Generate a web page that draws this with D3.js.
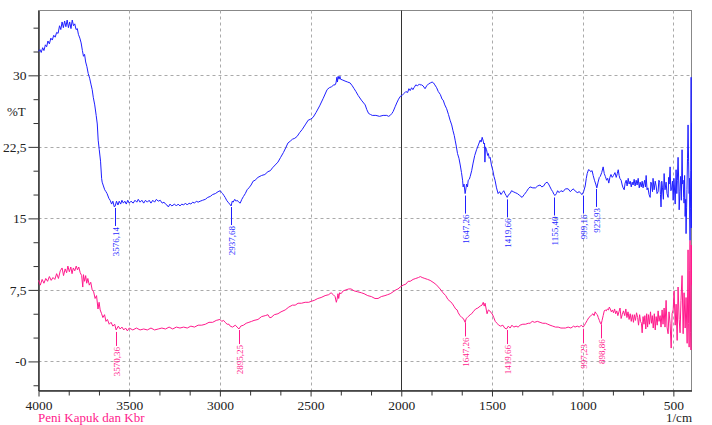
<!DOCTYPE html>
<html>
<head>
<meta charset="utf-8">
<script src="https://cdn.jsdelivr.net/npm/d3@7"></script>
<style>
  body { margin: 0; background: #fff; }
  svg, svg text { font-family: "Liberation Serif", "DejaVu Serif", serif !important; }
</style>
</head>
<body>
<div id="chart-area"></div>
<script>
// wavenumber (1/cm) and %T for the upper (blue) spectrum
var blueWn = [4000,3992,3985,3977,3970,3962,3955,3948,3940,3932,3924,3916,3908,3900,3892,3884,3877,3870,3863,3856,3849,3842,3835,3828,3821,3814,3807,3800,3793,3786,3780,3772,3765,3758,3752,3746,3740,3733,3726,3718,3710,3704,3698,3690,3682,3676,3671,3665,3658,3652,3649,3642,3635,3628,3622,3612,3605,3597,3590,3582,3577,3570,3562,3555,3547,3540,3532,3524,3516,3508,3500,3490,3478,3468,3458,3450,3440,3430,3420,3410,3400,3390,3380,3370,3360,3350,3340,3329,3318,3308,3300,3292,3284,3275,3265,3250,3240,3230,3220,3210,3200,3190,3180,3170,3160,3150,3140,3130,3120,3109,3095,3080,3067,3053,3040,3025,3010,2998,2990,2985,2978,2971,2963,2955,2946,2938,2932,2927,2918,2910,2905,2896,2888,2879,2870,2860,2850,2840,2828,2817,2806,2790,2770,2752,2735,2722,2710,2695,2680,2665,2650,2637,2625,2612,2600,2587,2574,2560,2547,2530,2513,2500,2486,2470,2450,2430,2409,2397,2385,2372,2365,2360,2355,2352,2348,2343,2338,2335,2322,2310,2296,2282,2270,2260,2250,2238,2220,2199,2190,2180,2170,2160,2140,2120,2100,2080,2070,2061,2052,2045,2034,2025,2015,2005,1995,1985,1975,1965,1958,1951,1943,1936,1930,1920,1910,1900,1896,1888,1880,1869,1860,1850,1840,1830,1822,1815,1805,1796,1785,1775,1769,1760,1750,1740,1731,1722,1715,1708,1703,1696,1690,1682,1675,1668,1662,1659,1654,1648,1643,1640,1635,1631,1625,1620,1612,1604,1595,1585,1575,1565,1560,1554,1548,1545,1541,1539,1536,1530,1524,1520,1515,1510,1503,1495,1489,1483,1475,1466,1458,1450,1443,1435,1428,1422,1416,1408,1400,1392,1383,1372,1360,1347,1334,1322,1310,1300,1290,1275,1260,1248,1235,1225,1215,1205,1196,1188,1180,1172,1165,1158,1152,1145,1138,1130,1120,1108,1095,1080,1068,1053,1042,1030,1018,1010,1003,995,986,980,975,968,964,956,948,942,935,928,922,915,908,903,895,887,881,875,868,862,856,850,844,837,830,822,815,809,804,799,795,788,782,777,771,766,760,755,749,744,738,732,727,722,716,711,705,700,694,688,683,677,672,667,662,658,654,650,645,640,634,628,624,620,615,612,606,600,595,590,584,580,575,571,568,564,560,555,551,546,540,535,529,526,523,518,514,510,505,501,497,495,490,485,481,478,474,470,468,464,460,456,452,449,446,443,441,438,435,432,430,427,425,422,419,416,413,411,410,408,406,404,402,401,400];
var blueT = [32.5,32.7,32.4,32.9,32.6,33.2,33.0,33.6,33.3,33.9,33.7,34.2,34.0,34.5,34.4,35.2,34.8,35.6,35.0,35.7,35.1,35.8,35.0,35.6,34.9,35.8,35.2,35.4,34.8,34.9,34.3,33.9,33.4,32.6,32.0,32.2,31.4,30.9,30.2,29.7,29.0,28.5,27.7,26.9,25.8,24.9,23.2,22.2,21.0,19.2,18.8,18.4,18.0,17.8,17.6,17.1,16.9,16.5,16.8,16.2,16.3,16.8,16.4,16.8,16.5,16.9,16.6,16.8,16.5,16.9,16.6,16.8,16.6,16.9,16.7,17.0,16.7,16.9,16.6,16.9,16.7,16.9,16.6,16.9,16.7,17.0,16.8,16.9,16.6,16.7,16.5,16.4,16.2,16.5,16.3,16.5,16.3,16.5,16.3,16.5,16.4,16.6,16.4,16.6,16.5,16.7,16.6,16.8,16.7,16.8,16.9,17.0,17.2,17.3,17.5,17.6,17.8,17.9,17.7,17.6,17.4,17.2,16.9,16.7,16.5,16.3,16.8,16.7,17.0,16.8,16.9,16.7,16.6,17.0,17.3,17.6,18.0,18.2,18.5,18.9,19.0,19.3,19.5,19.6,19.9,20.0,20.3,20.6,20.9,21.4,21.9,22.4,22.9,23.1,23.3,23.4,23.6,24.0,24.3,24.8,25.3,25.4,25.6,26.1,26.8,27.6,28.5,28.7,28.8,29.0,29.0,29.2,29.8,29.3,29.9,29.6,29.9,29.6,29.5,29.4,29.3,29.2,28.9,28.6,28.3,27.9,27.4,26.9,26.4,26.0,25.9,25.8,25.8,25.7,25.8,25.8,25.7,25.8,26.0,26.2,26.7,27.1,27.5,27.8,27.9,28.1,28.3,28.2,28.6,28.4,28.7,28.5,28.7,29.0,28.9,29.1,29.0,29.0,28.9,28.6,28.9,29.1,29.2,29.3,29.2,29.0,28.7,28.3,28.0,27.5,27.4,26.9,26.5,25.9,25.3,24.8,24.2,23.7,23.2,22.5,21.8,21.3,20.6,19.8,19.0,18.3,18.6,17.6,18.2,18.6,18.3,19.0,19.1,19.4,20.0,20.8,21.6,22.2,22.7,23.2,23.0,23.5,23.1,22.8,22.9,20.9,22.5,22.2,21.6,21.8,21.3,21.4,20.6,20.0,19.4,19.0,18.2,17.6,17.8,17.5,17.7,17.9,17.6,17.4,17.2,17.5,17.6,17.9,17.8,17.7,17.6,17.4,17.2,17.5,17.8,18.1,18.3,18.2,18.2,18.4,18.5,18.3,18.4,18.7,18.8,18.6,18.3,18.0,17.8,17.5,17.4,17.6,17.9,17.7,17.9,17.8,18.1,18.1,17.8,18.1,17.9,17.7,17.8,17.6,17.5,17.8,18.4,19.2,19.7,20.1,20.1,19.9,20.0,19.5,19.0,18.6,18.2,18.8,19.3,19.4,19.8,20.4,19.7,19.4,19.0,19.2,18.7,19.3,19.6,19.3,19.5,19.8,19.3,19.7,20.1,19.5,19.2,19.0,18.5,18.2,18.0,18.7,19.0,18.4,19.2,18.6,18.9,18.3,18.8,18.5,19.1,18.4,19.0,18.5,19.2,18.2,18.8,18.3,18.9,18.2,18.7,19.0,18.3,19.5,18.0,18.2,17.5,17.2,18.8,18.6,17.8,19.2,18.0,18.9,18.4,17.6,17.8,19.0,18.8,17.5,16.2,18.9,18.2,17.0,19.7,18.0,18.8,17.6,17.2,19.3,18.6,20.4,17.9,18.0,18.9,16.9,19.2,18.6,16.5,20.1,17.6,19.0,21.4,18.5,15.9,17.8,19.4,16.9,22.2,18.6,19.0,17.2,16.6,19.5,15.2,17.0,13.4,16.1,18.0,21.3,24.8,21.0,17.6,19.2,15.0,12.7,16.0,20.0,29.8,14.0,25.0];

// lower (pink) spectrum
var pinkWn = [4000,3990,3980,3970,3960,3950,3940,3930,3920,3910,3900,3890,3880,3870,3862,3853,3845,3838,3830,3822,3815,3808,3800,3792,3785,3778,3770,3762,3756,3752,3746,3740,3734,3728,3720,3712,3704,3696,3688,3680,3672,3666,3660,3652,3645,3636,3628,3620,3610,3600,3590,3580,3572,3560,3550,3540,3530,3520,3510,3500,3480,3460,3440,3420,3400,3380,3360,3340,3320,3300,3280,3260,3240,3220,3200,3180,3160,3140,3120,3100,3080,3060,3040,3020,3000,2990,2980,2971,2960,2950,2943,2930,2915,2905,2895,2885,2870,2855,2840,2825,2812,2790,2770,2750,2735,2726,2718,2700,2680,2663,2640,2620,2600,2585,2569,2550,2530,2510,2497,2480,2460,2442,2420,2400,2387,2375,2365,2358,2354,2349,2345,2340,2332,2320,2305,2290,2277,2260,2240,2220,2205,2185,2165,2145,2128,2110,2090,2075,2061,2045,2030,2018,2006,1990,1975,1962,1951,1935,1920,1905,1895,1885,1870,1855,1841,1825,1810,1800,1786,1770,1755,1743,1731,1720,1710,1700,1692,1686,1676,1666,1658,1648,1642,1636,1631,1620,1612,1604,1590,1578,1565,1555,1548,1543,1538,1530,1527,1520,1512,1505,1499,1490,1482,1472,1463,1452,1440,1430,1420,1410,1400,1390,1380,1367,1356,1345,1330,1315,1300,1290,1278,1265,1250,1235,1220,1205,1192,1180,1165,1150,1135,1120,1108,1095,1080,1065,1050,1042,1030,1018,1008,997,990,984,975,966,959,950,943,937,931,925,919,914,908,902,898,893,887,881,876,870,864,858,853,848,842,836,830,824,818,812,806,800,794,788,782,775,768,762,756,750,744,738,732,726,720,715,709,703,697,692,686,681,676,672,667,662,657,652,647,642,637,632,626,621,616,611,605,600,595,589,584,579,573,568,562,557,551,546,540,535,529,524,518,512,507,501,496,490,485,479,474,468,463,458,452,446,441,435,430,424,419,416,413,410,408,405,403,401,400];
var pinkT = [8.5,8.0,8.6,8.2,8.7,8.4,8.9,8.5,8.8,8.6,9.2,8.7,9.5,9.8,9.0,9.7,9.3,10.0,9.4,9.9,9.2,9.8,9.5,10.0,9.6,9.9,9.3,9.0,7.8,9.1,8.4,9.0,8.2,8.7,8.0,8.3,7.5,7.3,6.6,6.9,5.5,6.2,5.4,5.0,4.6,4.9,4.2,4.4,3.9,4.1,3.7,3.9,3.3,3.7,3.4,3.6,3.3,3.5,3.2,3.5,3.3,3.5,3.3,3.4,3.3,3.5,3.3,3.4,3.5,3.4,3.6,3.4,3.6,3.5,3.6,3.5,3.7,3.6,3.8,3.8,3.9,4.1,4.1,4.3,4.4,4.2,4.3,4.1,3.9,3.9,3.7,3.6,3.8,3.6,3.4,3.7,3.8,4.0,4.1,4.2,4.3,4.4,4.7,4.8,4.9,4.6,4.6,4.9,5.0,5.2,5.4,5.7,5.9,5.9,6.1,6.1,6.2,6.2,6.3,6.4,6.6,6.7,6.9,7.0,7.2,7.0,6.8,6.2,6.5,7.1,6.6,7.2,7.1,7.4,7.5,7.6,7.6,7.4,7.3,7.2,7.1,6.9,6.8,6.6,6.6,6.8,6.9,7.0,7.1,7.3,7.5,7.6,7.8,8.0,8.1,8.4,8.4,8.6,8.7,8.8,8.9,8.8,8.7,8.6,8.5,8.3,8.1,7.9,7.6,7.2,6.9,6.5,6.3,6.1,5.8,5.5,5.4,5.1,4.8,4.6,4.5,4.1,4.5,4.6,4.7,4.9,5.0,5.2,5.5,5.6,5.8,5.9,6.2,5.8,6.1,5.3,5.0,5.4,5.3,5.1,5.0,4.6,4.2,4.0,3.8,3.7,3.8,3.5,3.4,3.7,3.5,3.8,3.6,3.7,3.6,3.8,3.9,3.9,4.0,4.0,4.2,4.1,4.2,4.1,4.0,4.0,3.9,3.8,3.7,3.6,3.6,3.5,3.5,3.5,3.6,3.5,3.7,3.6,3.7,3.6,3.8,3.6,3.8,4.0,4.3,4.6,4.7,4.9,5.0,4.8,5.2,5.0,4.9,4.6,4.3,4.0,3.9,4.3,4.8,5.3,5.4,5.3,5.5,5.4,5.7,5.5,5.2,5.4,5.1,5.5,5.0,5.3,4.8,5.2,5.6,4.5,4.9,5.3,4.8,5.5,4.6,5.2,4.4,5.0,4.2,4.9,4.1,4.9,4.3,5.1,4.6,3.8,4.9,4.2,4.0,3.0,4.7,3.9,4.8,3.4,5.0,3.6,4.9,3.9,5.2,4.0,4.8,3.5,5.0,3.3,4.7,3.8,5.3,4.2,4.8,3.6,5.4,3.9,5.6,3.6,6.4,3.6,2.9,5.2,4.0,1.4,5.0,5.4,7.4,3.8,6.0,2.2,7.8,4.4,3.0,6.4,9.0,2.9,7.2,3.5,6.7,1.9,11.7,4.0,1.5,9.5,12.7,3.0,1.2,12.2,8.0];

// peak labels
var bluePeaks = [3576.14, 2937.68, 1647.26, 1419.66, 1155.40, 999.16, 923.93];
var bluePeakT = [16.3, 16.4, 17.6, 17.2, 17.4, 17.6, 18.3];
var pinkPeaks = [3570.36, 2895.25, 1647.26, 1419.66, 997.23, 898.86];
var pinkPeakT = [3.3, 3.5, 4.3, 3.5, 3.6, 4.1];

var xTicks = [4000, 3500, 3000, 2500, 2000, 1500, 1000, 500];
var yTicks = [30, 22.5, 15, 7.5, 0];
var yTickLabels = ["30", "22,5", "15", "7,5", "-0"];

var blue = "#1f1fff";
var pink = "#ff1a8c";
var serif = "'Liberation Serif', 'DejaVu Serif', serif";

var width = 712, height = 425;
var svg = d3.select("#chart-area").append("svg")
    .attr("width", width)
    .attr("height", height)
    .style("font-family", serif);

var x = d3.scaleLinear().domain([4000, 400]).range([38.5, 691.5]);
var y = d3.scaleLinear().domain([-3.05, 36.8]).range([390.5, 10.5]);

// frame
svg.append("rect")
    .attr("x", x(4000)).attr("y", y(36.8))
    .attr("width", x(400) - x(4000)).attr("height", y(-3.05) - y(36.8))
    .attr("fill", "none").attr("stroke", "#888");

// grid
svg.append("g").selectAll("line").data(yTicks).enter().append("line")
    .attr("x1", x(4000)).attr("x2", x(400))
    .attr("y1", d => Math.round(y(d)) + 0.5).attr("y2", d => Math.round(y(d)) + 0.5)
    .attr("stroke", "#aaa").attr("stroke-dasharray", "3,3");
svg.append("g").selectAll("line").data(xTicks.filter(d => d != 4000 && d != 2000)).enter().append("line")
    .attr("x1", d => Math.round(x(d)) + 0.5).attr("x2", d => Math.round(x(d)) + 0.5)
    .attr("y1", y(36.8)).attr("y2", y(-3.05))
    .attr("stroke", "#aaa").attr("stroke-dasharray", "3,3");
svg.append("line")
    .attr("x1", Math.round(x(2000)) + 0.5).attr("x2", Math.round(x(2000)) + 0.5)
    .attr("y1", y(36.8)).attr("y2", y(-3.05))
    .attr("stroke", "#333");

// axes
var minorY = d3.range(-2.5, 36.8, 2.5).filter(v => Math.abs(v / 7.5 - Math.round(v / 7.5)) > 0.01);
var minorX = d3.range(4000, 400, -500 / 3).filter((v, i) => i % 3 != 0);

var leftAxis = d3.axisLeft(y).tickValues(yTicks).tickSize(10).tickSizeOuter(0).tickPadding(2)
    .tickFormat((d, i) => yTickLabels[i]);
svg.append("g").attr("transform", "translate(" + x(4000) + ",0)").call(leftAxis);
svg.append("g").attr("transform", "translate(" + x(4000) + ",0)")
    .call(d3.axisLeft(y).tickValues(minorY).tickSize(5).tickSizeOuter(0).tickFormat(""));

var bottomAxis = d3.axisBottom(x).tickValues(xTicks).tickSize(6).tickSizeOuter(0).tickPadding(4)
    .tickFormat(d3.format("d"));
svg.append("g").attr("transform", "translate(0," + y(-3.05) + ")").call(bottomAxis);
svg.append("g").attr("transform", "translate(0," + y(-3.05) + ")")
    .call(d3.axisBottom(x).tickValues(minorX).tickSize(5).tickSizeOuter(0).tickFormat(""));

svg.selectAll("g").attr("font-family", serif);
svg.selectAll(".domain").attr("stroke", "#333");
svg.selectAll(".tick line").attr("stroke", "#333");
svg.selectAll(".tick text")
    .style("font-family", serif)
    .attr("font-size", "13.5px")
    .attr("fill", "#222");

// spectra
var line = d3.line().x(d => x(d[0])).y(d => y(d[1]));
svg.append("path")
    .datum(d3.zip(pinkWn, pinkT))
    .attr("d", line).attr("fill", "none").attr("stroke", pink).attr("stroke-width", 1);
svg.append("path")
    .datum(d3.zip(blueWn, blueT))
    .attr("d", line).attr("fill", "none").attr("stroke", blue).attr("stroke-width", 1);

// peak markers
function peaks(wn, t, color, gap, len) {
    var g = svg.append("g");
    var data = d3.zip(wn, t);
    g.selectAll("line").data(data).enter().append("line")
        .attr("x1", d => Math.round(x(d[0])) + 0.5).attr("x2", d => Math.round(x(d[0])) + 0.5)
        .attr("y1", d => y(d[1]) + gap).attr("y2", d => y(d[1]) + gap + len)
        .attr("stroke", color);
    g.selectAll("text").data(data).enter().append("text")
        .attr("transform", d => "translate(" + (Math.round(x(d[0])) + 0.5) + "," + (y(d[1]) + gap + len + 1) + ") rotate(-90)")
        .attr("text-anchor", "end")
        .attr("dy", "0.35em")
        .attr("font-size", "9px")
        .style("font-family", serif)
        .attr("fill", color)
        .text(d => d[0].toFixed(2).replace(".", ","));
}
peaks(bluePeaks, bluePeakT, blue, 2, 18);
peaks(pinkPeaks, pinkPeakT, pink, 2, 14);

// labels
svg.append("text").attr("x", 7).attr("y", 116)
    .attr("font-size", "13px").attr("fill", "#222").text("%T");
svg.append("text").attr("x", 38).attr("y", 422)
    .attr("font-size", "13px").attr("fill", pink).text("Peni Kapuk dan Kbr");
svg.append("text").attr("x", 692).attr("y", 422)
    .attr("text-anchor", "end")
    .attr("font-size", "13px").attr("fill", "#222").text("1/cm");
</script>
</body>
</html>
